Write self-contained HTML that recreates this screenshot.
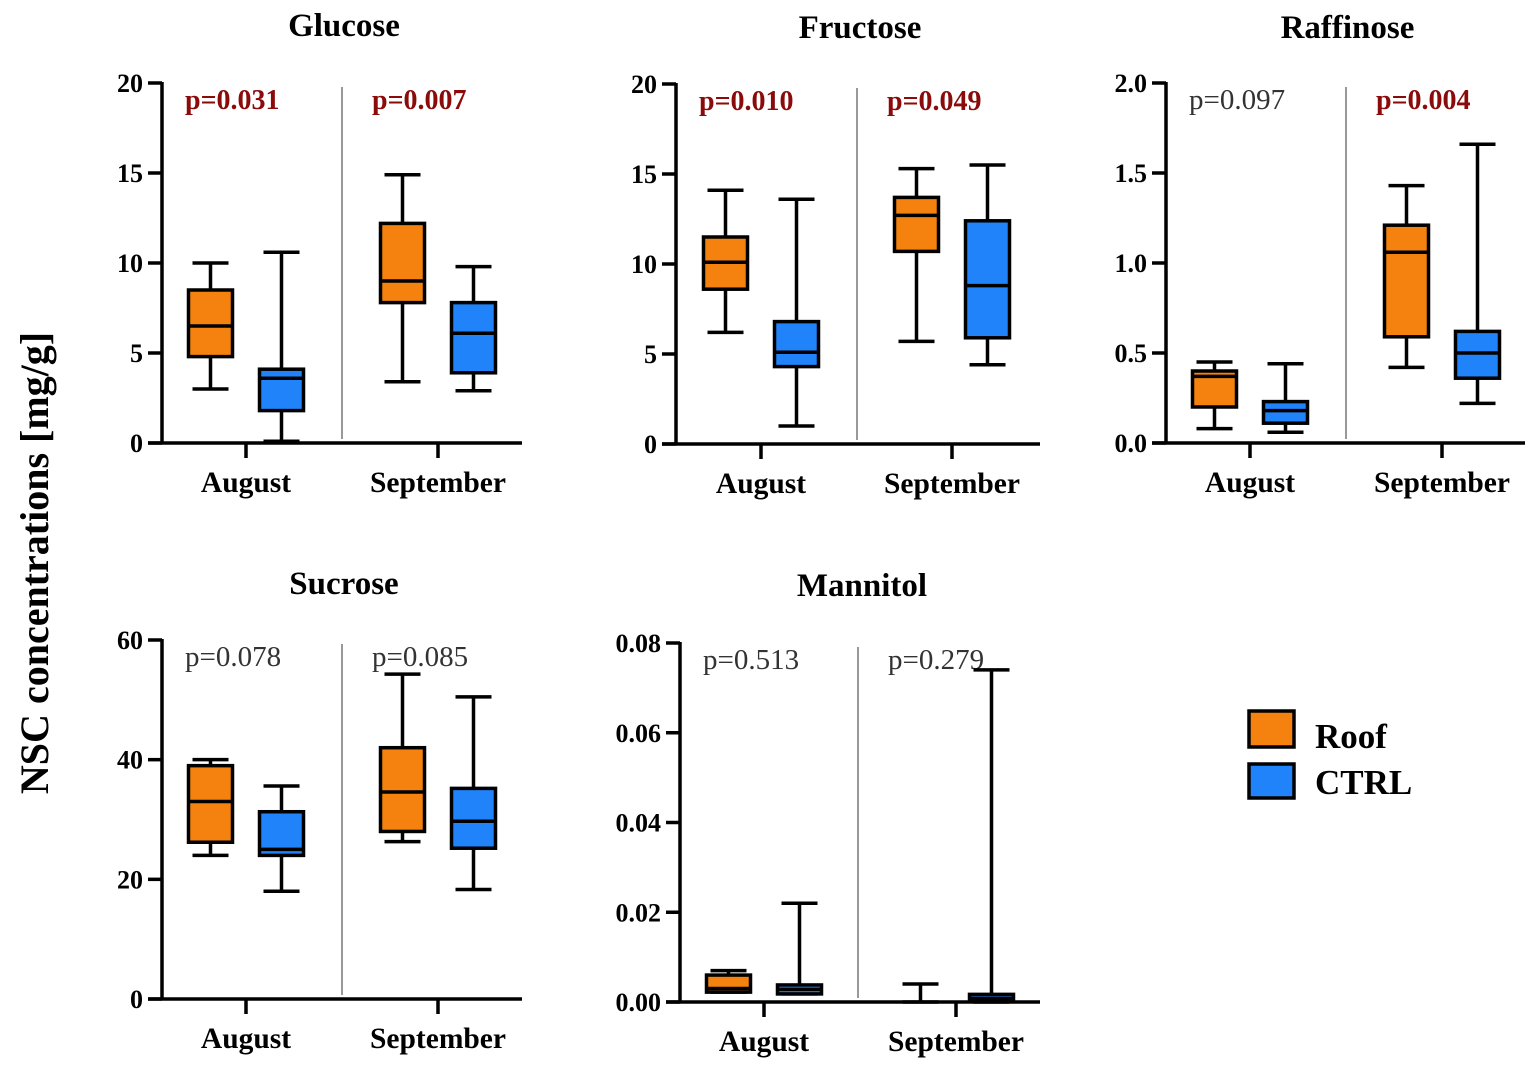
<!DOCTYPE html>
<html><head><meta charset="utf-8"><style>
html,body{margin:0;padding:0;background:#fff;}
svg{display:block;font-family:"Liberation Serif",serif;}
</style></head><body>
<svg id="chart" width="1535" height="1069" viewBox="0 0 1535 1069" xmlns="http://www.w3.org/2000/svg">
<text transform="translate(48,563) rotate(-90)" text-anchor="middle" font-size="40" font-weight="bold">NSC concentrations [mg/g]</text>
<g>
<rect x="1249" y="711" width="45" height="36" fill="#F5820E" stroke="#000" stroke-width="3.5"/>
<text x="1315" y="748" font-size="35" font-weight="bold">Roof</text>
<rect x="1249" y="764" width="45" height="34" fill="#2083FA" stroke="#000" stroke-width="3.5"/>
<text x="1315" y="794" font-size="35" font-weight="bold">CTRL</text>
</g>
</svg>
<script>
const panelTitles = ["Glucose","Fructose","Raffinose","Sucrose","Mannitol"];
const months = ["August","September"];
const yMaxes = [20,20,2.0,60,0.08];
const yTickLabels = [["0","5","10","15","20"],["0","5","10","15","20"],["0.0","0.5","1.0","1.5","2.0"],["0","20","40","60"],["0.00","0.02","0.04","0.06","0.08"]];
const pValues = [["p=0.031","p=0.007"],["p=0.010","p=0.049"],["p=0.097","p=0.004"],["p=0.078","p=0.085"],["p=0.513","p=0.279"]];
const pSignificant = [[true,true],[true,true],[false,true],[false,false],[false,false]];
// [min,q1,median,q3,max] for Roof / CTRL, August then September
const roofStats = [
 [[3.0,4.8,6.5,8.5,10.0],[3.4,7.8,9.0,12.2,14.9]],
 [[6.2,8.6,10.1,11.5,14.1],[5.7,10.7,12.7,13.7,15.3]],
 [[0.08,0.2,0.37,0.4,0.45],[0.42,0.59,1.06,1.21,1.43]],
 [[24.0,26.2,33.0,39.0,40.0],[26.3,28.0,34.6,42.0,54.3]],
 [[0.0022,0.0022,0.003,0.006,0.007],[0,0,0,0,0.004]]
];
const ctrlStats = [
 [[0.1,1.8,3.6,4.1,10.6],[2.9,3.9,6.1,7.8,9.8]],
 [[1.0,4.3,5.1,6.8,13.6],[4.4,5.9,8.8,12.4,15.5]],
 [[0.06,0.11,0.18,0.23,0.44],[0.22,0.36,0.5,0.62,1.66]],
 [[18.0,24.0,25.0,31.3,35.6],[18.3,25.2,29.7,35.2,50.5]],
 [[0.0018,0.0018,0.0028,0.0038,0.022],[0,0.0003,0.0008,0.0017,0.074]]
];
const layout = [
 {ax:162,top:83,bot:443,right:522,t1:246,t2:438,div:342,ty:36},
 {ax:676,top:84,bot:444,right:1040,t1:761,t2:952,div:857,ty:38},
 {ax:1166,top:83,bot:443,right:1525,t1:1250,t2:1442,div:1346,ty:38},
 {ax:162,top:640,bot:999,right:522,t1:246,t2:438,div:342,ty:594},
 {ax:680,top:643,bot:1002,right:1040,t1:764,t2:956,div:858,ty:596}
];
const svg=document.getElementById('chart');
const NS='http://www.w3.org/2000/svg';
function mk(tag,attrs,parent){const e=document.createElementNS(NS,tag);for(const k in attrs)e.setAttribute(k,attrs[k]);parent.appendChild(e);return e;}
function drawBox(g,cx,st,y,color,name){
  const bw=44,cw=36;
  const bg=mk('g',{},g);
  
  
  mk('line',{x1:cx,x2:cx,y1:y(st[0]),y2:y(st[4]),stroke:'#000','stroke-width':3.5},bg);
  mk('line',{x1:cx-cw/2,x2:cx+cw/2,y1:y(st[4]),y2:y(st[4]),stroke:'#000','stroke-width':3.5},bg);
  mk('line',{x1:cx-cw/2,x2:cx+cw/2,y1:y(st[0]),y2:y(st[0]),stroke:'#000','stroke-width':3.5},bg);
  if(st[3]>st[1]){
    mk('rect',{x:cx-bw/2,y:y(st[3]),width:bw,height:y(st[1])-y(st[3]),fill:color,stroke:'#000','stroke-width':3.5},bg);
    mk('line',{x1:cx-bw/2,x2:cx+bw/2,y1:y(st[2]),y2:y(st[2]),stroke:'#000','stroke-width':3.5},bg);
  }
}
panelTitles.forEach((title,i)=>{
  const L=layout[i];
  const g=mk('g',{},svg);
  
  
  const y=v=>L.bot-(v/yMaxes[i])*(L.bot-L.top);
  const t=mk('text',{x:(L.ax+L.right)/2+2,y:L.ty,'text-anchor':'middle','font-size':33,'font-weight':'bold'},g);
  t.textContent=title;
  
  
  const d=mk('line',{x1:L.div,x2:L.div,y1:L.top+4,y2:L.bot-4,stroke:'#999','stroke-width':2},g);
  
  
  const ya=mk('line',{x1:L.ax,x2:L.ax,y1:L.top-1,y2:L.bot+1.5,stroke:'#000','stroke-width':3.5},g);
  
  
  const labs=yTickLabels[i];
  labs.forEach((lab,k)=>{
    const v=yMaxes[i]*k/(labs.length-1);
    mk('line',{x1:L.ax-14,x2:L.ax,y1:y(v),y2:y(v),stroke:'#000','stroke-width':3.5},g);
    const tl=mk('text',{x:L.ax-19,y:y(v)+9,'text-anchor':'end','font-size':26,'font-weight':'bold'},g);
    tl.textContent=lab;
    
    
  });
  const xa=mk('line',{x1:L.ax-14,x2:L.right,y1:L.bot,y2:L.bot,stroke:'#000','stroke-width':3.5},g);
  
  
  [L.t1,L.t2].forEach((tx,m)=>{
    mk('line',{x1:tx,x2:tx,y1:L.bot,y2:L.bot+15,stroke:'#000','stroke-width':3.5},g);
    const ml=mk('text',{x:tx,y:L.bot+49,'text-anchor':'middle','font-size':29.5,'font-weight':'bold'},g);
    ml.textContent=months[m];
    
    
    const sig=pSignificant[i][m];
    const px=m===0?L.ax+23:L.div+30;
    const pt=mk('text',{x:px,y:L.top+26,'font-size':sig?28:29,'font-weight':sig?'bold':'normal',fill:sig?'#8B0A0A':'#333'},g);
    pt.textContent=pValues[i][m];
    
    
    drawBox(g,tx-35.5,roofStats[i][m],y,'#F5820E','box-roof-'+months[m].toLowerCase());
    drawBox(g,tx+35.5,ctrlStats[i][m],y,'#2083FA','box-ctrl-'+months[m].toLowerCase());
  });
});
</script>
</body></html>
